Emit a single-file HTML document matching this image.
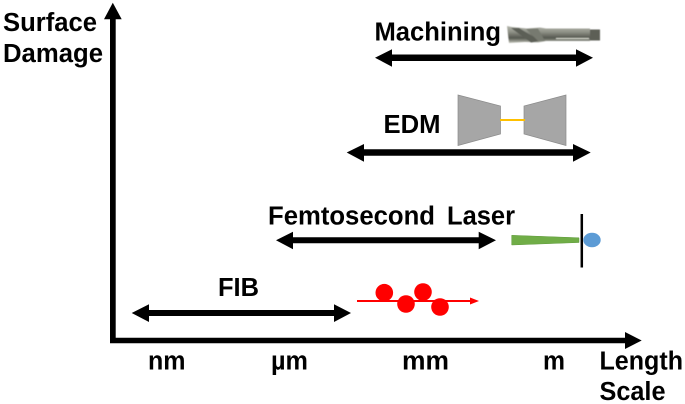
<!DOCTYPE html>
<html>
<head>
<meta charset="utf-8">
<style>
html,body{margin:0;padding:0;background:#fff;width:685px;height:404px;overflow:hidden}
svg{display:block}
text{font-family:"Liberation Sans",sans-serif;font-weight:bold;font-size:25.5px;fill:#000}
</style>
</head>
<body>
<svg width="685" height="404" viewBox="0 0 685 404" xmlns="http://www.w3.org/2000/svg">
<defs>
<linearGradient id="m" x1="0" y1="0" x2="0" y2="1">
<stop offset="0" stop-color="#b4b6ac"/>
<stop offset="0.35" stop-color="#8f9187"/>
<stop offset="0.7" stop-color="#55574f"/>
<stop offset="0.88" stop-color="#93958b"/>
<stop offset="1" stop-color="#c4c6bc"/>
</linearGradient>
<filter id="b" x="-5%" y="-5%" width="110%" height="110%"><feGaussianBlur stdDeviation="0.3"/></filter>
<filter id="c" x="-5%" y="-5%" width="110%" height="110%"><feGaussianBlur stdDeviation="0.6"/></filter>
</defs>
<g filter="url(#b)">
<!-- axes -->
<polygon points="110,343.300 110,19.300 104,19.300 112.800,2.700 121.700,19.300 115.700,19.300 115.700,337.700 625,337.700 625,332 641.700,340.500 625,349 625,343.300" fill="#000"/>
<!-- Machining arrow -->
<polygon points="375,57.700 392,49.300 392,54.500 576,54.500 576,49.300 593,57.700 576,66.700 576,61 392,61 392,66.700" fill="#000"/>
<!-- EDM arrow -->
<polygon points="346.700,152.500 364,144 364,149.300 573,149.300 573,144 590.700,152.500 573,161.700 573,155.700 364,155.700 364,161.700" fill="#000"/>
<!-- Femto arrow -->
<polygon points="276,240.300 293,231.700 293,237.300 478.700,237.300 478.700,231.700 496,240.300 478.700,249.300 478.700,243.300 293,243.300 293,249.300" fill="#000"/>
<!-- FIB arrow -->
<polygon points="131.700,313 149,304.300 149,310 334,310 334,304.300 351,313 334,322 334,316 149,316 149,322" fill="#000"/>
<!-- EDM electrodes -->
<polygon points="458,95 500.500,106 500.500,134 458,145.500" fill="#a6a6a6" stroke="#8c8c8c" stroke-width="0.700"/>
<polygon points="566,95 524,106 524,134 566,145.500" fill="#a6a6a6" stroke="#8c8c8c" stroke-width="0.700"/>
<line x1="500" y1="120" x2="525" y2="120" stroke="#ffc000" stroke-width="2"/>
<!-- Laser -->
<polygon points="511.700,235.300 579,237.800 579,242.500 511.700,245" fill="#70ad47" stroke="#5f9a3c" stroke-width="0.500"/>
<line x1="581.800" y1="214" x2="581.800" y2="267.500" stroke="#000" stroke-width="2.500"/>
<ellipse cx="592" cy="240" rx="8.700" ry="7.200" fill="#5b9bd5"/>
<!-- FIB ions -->
<line x1="357" y1="301" x2="472" y2="301" stroke="#f00" stroke-width="2"/>
<polygon points="470,297.500 479,301 470,304.500" fill="#f00"/>
<circle cx="384.300" cy="292.700" r="8.800" fill="#f00"/>
<circle cx="406" cy="304" r="8.800" fill="#f00"/>
<circle cx="423" cy="292" r="8.800" fill="#f00"/>
<circle cx="440" cy="307" r="8.800" fill="#f00"/>
</g>
<!-- endmill -->
<g filter="url(#c)">
<polygon points="507,26 512,27 527,28.500 540,27.500 546,28.500 590,28.500 590,41 546,41 538,42.500 525,42 509,43" fill="url(#m)"/>
<polygon points="590,29.500 600,29.500 600,40.500 590,40.500" fill="#5d5f57"/>
<polygon points="511,28 519,28 540,41 531,42.500" fill="#5c5f56"/>
<polygon points="526,29 538,28.500 545,41 538,41" fill="#777a70"/>
<line x1="556" y1="38.500" x2="589" y2="38.500" stroke="#d8dad0" stroke-width="1"/>
</g>
<!-- labels -->
<g filter="url(#b)">
<text x="3" y="31" textLength="94" lengthAdjust="spacingAndGlyphs">Surface</text>
<text x="3" y="62" textLength="100" lengthAdjust="spacingAndGlyphs">Damage</text>
<text x="374.500" y="40.500" textLength="126.500" lengthAdjust="spacingAndGlyphs">Machining</text>
<text x="383.500" y="133" textLength="57" lengthAdjust="spacingAndGlyphs">EDM</text>
<text x="268" y="224.300" textLength="167" lengthAdjust="spacingAndGlyphs">Femtosecond</text>
<text x="447" y="224.300" textLength="68" lengthAdjust="spacingAndGlyphs">Laser</text>
<text x="218" y="296" textLength="41" lengthAdjust="spacingAndGlyphs">FIB</text>
<text x="148" y="369.300" textLength="37.500" lengthAdjust="spacingAndGlyphs">nm</text>
<text x="271" y="369.300" textLength="37" lengthAdjust="spacingAndGlyphs">µm</text>
<text x="402" y="369.300" textLength="47" lengthAdjust="spacingAndGlyphs">mm</text>
<text x="543" y="369.300" textLength="22" lengthAdjust="spacingAndGlyphs">m</text>
<text x="599.500" y="369.300" textLength="83.500" lengthAdjust="spacingAndGlyphs">Length</text>
<text x="599.500" y="400" textLength="66" lengthAdjust="spacingAndGlyphs">Scale</text>
</g>
</svg>
</body>
</html>
